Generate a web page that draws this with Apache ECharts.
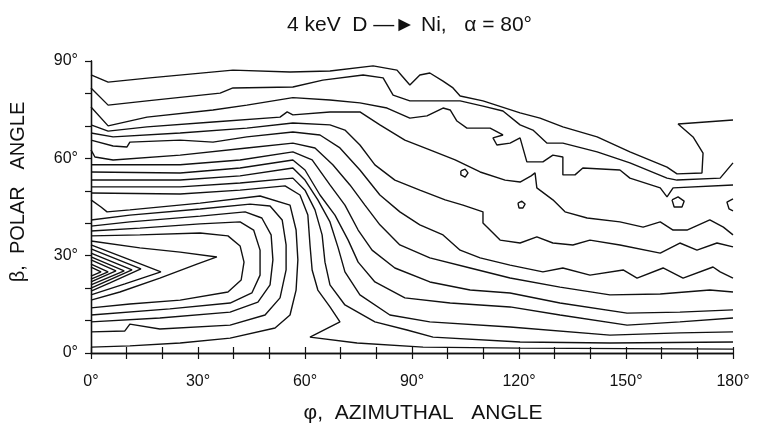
<!DOCTYPE html>
<html><head><meta charset="utf-8">
<script src="https://cdn.jsdelivr.net/npm/echarts@6/dist/echarts.min.js"></script>
<style>html,body{margin:0;padding:0;background:#fff}#c{width:758px;height:431px}</style>
</head><body><div id="c"></div>
<script>
// Axis ranges / ticks (degrees)
const phiTicks = [0, 30, 60, 90, 120, 150, 180];
const betaTicks = [0, 30, 60, 90];
const titleText = '4 keV  D —► Ni,   α = 80°';
const xName = 'φ,  AZIMUTHAL   ANGLE';
const yName = 'β,  POLAR   ANGLE';

// Contour lines, each a list of [phi (azimuthal deg), beta (polar deg)]
const C1 = [[0,85.7],[4.8,83.5],[16.5,84.8],[39.8,87.2],[55.8,86.6],[67,86.9],[79.1,88.5],[85.8,87.2],[87.2,85.4],[89.4,82.6],[92.2,85.7],[95,86.3],[98.7,83.8],[101.5,81.7],[103.5,79.2],[109.9,77.7],[120.3,74],[125.9,72.4],[132.3,69.7],[141.9,66.6],[151.1,62],[161.5,57.3],[164.3,55.2],[171.3,55.5],[171.6,61.6],[168.8,66.6],[164.6,70.6],[180,71.8]];
const C2 = [[0,81.7],[4.8,76.4],[15.7,77.7],[36.2,80.1],[39.8,81.7],[56.6,82],[65,84.1],[76.3,85.7],[81.9,84.8],[84.7,79.5],[89.4,77.7],[95,77.7],[103.5,77.7],[109.9,76.1],[115.5,74.6],[120.3,70.3],[123.9,68.7],[127.8,64.7],[132.3,64.7],[141.9,62],[151.1,58.6],[161.5,53.9],[164.3,53.3],[176.4,53.9],[180,58.6]];
const C3 = [[0,75.8],[4.8,70],[15.7,72.7],[34.2,74.9],[43.7,76.4],[56.6,78.7],[67,78],[75.4,77.1],[83,75.5],[89.4,72.4],[94.2,73.1],[98.7,75.5],[100.7,74.9],[102.6,71.5],[105.4,69.3],[111.9,69.3],[115.5,67.2],[112.7,66.3],[113.8,64.1],[117.5,64.7],[120.3,66.3],[122.2,58.9],[126.7,58.9],[129.5,61],[132.3,60.4],[132.3,54.9],[135.7,54.9],[137.9,57],[148.3,56.4],[151.1,53.9],[159.6,50.9],[161.5,48.1],[163.2,50.9],[180,51.8]];
const D1 = [[0,70.3],[4.8,68.4],[15.7,69.7],[34.2,71.2],[53,72.7],[55,74.3],[56.6,73.4],[67,74.3],[75.4,74.3],[81,70.3],[88,65.6],[95,62.6],[102.1,59.5],[109.1,55.8],[116.1,53.3],[120.3,52.7],[123.4,54.6],[124.5,55.5],[125,50.9],[129.5,47.2],[132.9,43.5],[139.1,41.6],[148.3,40.4],[154.8,38.8],[159.6,40.4],[163.2,37.9],[167.1,37.9],[173.5,41],[177.3,38.8],[180,36.4]];
const D2 = [[0,67.8],[6.2,66.6],[25,67.8],[43.7,69.3],[56.6,70.9],[67,70.3],[71.2,68.7],[75.4,64.1],[79.6,58],[85.2,53.3],[92.2,50.2],[99.3,47.2],[104.3,45.6],[109.9,43.5],[109.9,40.1],[114.7,34.8],[120.3,33.9],[125,35.8],[129.5,33.9],[135.1,33.3],[139.9,34.8],[148.3,33.3],[159.6,30.8],[165.1,33.9],[169.9,31.7],[175.5,33.9],[180,32.7]];
const D3 = [[0,65.6],[6.2,63.8],[10.1,63.5],[10.9,65],[25,65.6],[34.2,65],[43.7,66.6],[56.6,68.1],[64.2,67.2],[69.8,63.2],[75.4,56.4],[81,48.7],[86.6,43.5],[92.2,39.5],[98.7,36.4],[103.5,31.7],[109.1,29.3],[117.5,27.1],[126.7,25],[132.3,26.2],[139.9,24],[149.2,25.6],[153.1,23.1],[160.4,26.2],[166,23.1],[174.4,26.5],[176.4,25],[180,23.1]];
const D4 = [[0,62.6],[1.1,60.4],[6.2,59.5],[25,61],[43.7,63.2],[56.6,64.7],[62.8,63.2],[67.8,58],[72.6,51.8],[76.8,45.6],[81,39.5],[86.6,33.3],[95,29.3],[106.3,26.2],[117.5,23.1],[131.5,20.3],[145.5,17.9],[159.6,18.2],[173.5,19.4],[180,18.8]];
const D5 = [[0,58],[25,58],[41.8,59.5],[56.6,62],[62,59.5],[67,51.8],[71.2,45.6],[74.9,37.9],[78.8,31.7],[85.2,26.2],[95,21.9],[106.3,19.4],[117.5,18.5],[131.5,15.4],[150.3,12.3],[165.1,12.6],[180,13.3]];
const D6 = [[0,55.8],[25,55.5],[41.8,57],[56.6,59.5],[60,56.4],[64.2,48.7],[68.4,42.5],[72.1,34.8],[74.9,28],[79.6,21.9],[88,17],[100.7,15.4],[117.5,14.2],[131.5,11.7],[150.3,8.6],[165.1,9.6],[180,10.8]];
const D7 = [[0,53.3],[25,53.3],[41.8,54.6],[56.6,57],[60,53.3],[63.6,47.2],[67,40.4],[69.3,32.4],[71.2,25],[75.4,17.9],[83.8,11.7],[95,9.6],[117.5,8],[145.5,5.5],[165.1,6.2],[180,6.5]];
const D8 = [[0,51.2],[25,51.2],[41.8,52.4],[56.6,53.9],[60,50.2],[62.8,44.1],[64.8,36.4],[65.6,28],[67,21],[71.2,14.8],[79.6,9.6],[88.6,7.1],[95.9,4.9],[120.3,3.4],[145.5,3.1],[180,3.4]];
const R1 = [[0,49.3],[25,49],[41.8,50.2],[54.4,51.5],[58.6,48.7],[60.8,42.5],[61.4,33.3],[62,25.6],[63.6,19.4],[67,14.2],[69.8,9.6],[61.4,4.9],[74.6,3.1],[93.1,1.8],[120.3,1.5],[180,1.2]];
const U5 = [[0,47.2],[2.8,45],[4.5,43.5],[10.9,44.1],[30.6,46.2],[47.4,48.4],[55.8,45.6],[57.5,37.9],[58,28.7],[57.5,19.4],[55.8,11.7],[51.6,7.7],[39,4.6],[25,3.1],[10.9,2.2],[0,1.8]];
const U4 = [[0,41],[10.9,42.5],[30.6,44.4],[44.6,45.9],[50.2,45.3],[53.6,41],[54.7,33.3],[54.7,25.6],[53,17],[48.8,11.7],[39,8.6],[19.3,7.4],[10.9,8.9],[9.5,6.8],[0,6.5]];
const U3 = [[0,39.1],[10.9,40.4],[30.6,42.2],[43.2,43.5],[47.9,41.6],[50.5,36.4],[51,28.7],[50.2,21],[46.8,15.7],[39,12.6],[19.3,10.8],[0,9.6]];
const U2 = [[0,37.6],[13.7,38.5],[30.6,39.8],[41.8,40.4],[45.6,37.9],[47.4,31.7],[47.4,24],[45.1,18.5],[39,15.4],[22.1,13.6],[0,11.7]];
const P9 = [[0,36.1],[13.7,36.4],[30.6,37],[38.4,36.1],[41.8,33],[42.9,28],[42.1,22.5],[38.4,18.8],[25,16.3],[10.9,15.1],[0,13.9]];
const P8 = [[0,34.5],[13.7,32.4],[25,31.1],[35.3,29.6],[29.7,27.4],[19.3,23.1],[8.1,18.8],[0,16.3]];
const P7 = [[0,33.3],[9.5,29.3],[19.6,25],[9.5,21.3],[0,17.9]];
const P6 = [[0,32.1],[14,25.9],[5.3,21.6],[0,19.1]];
const P5 = [[0,30.8],[11.5,25.6],[0,20]];
const P4 = [[0,29.6],[9.3,25.3],[0,21]];
const P3 = [[0,28.7],[7,25.3],[0,21.9]];
const P2 = [[0,27.4],[4.8,25],[0,22.8]];
const P1 = [[0,26.5],[2.8,25],[0,23.7]];
const L1 = [[103.7,56.1],[104.9,56.7],[105.7,55.5],[104.9,54.2],[103.7,54.9],[103.7,56.1]];
const L2 = [[119.7,46.2],[120.8,46.8],[121.7,45.9],[121.1,44.7],[120,44.7],[119.7,46.2]];
const L3 = [[162.9,47.2],[164.6,48.1],[166.3,46.8],[165.7,45],[163.5,45],[162.9,47.2]];
const L4 = [[180,47.5],[178.3,46.5],[178.9,44.4],[180,43.8]];

const contours = [C1,C2,C3,D1,D2,D3,D4,D5,D6,D7,D8,R1,U5,U4,U3,U2,P9,P8,P7,P6,P5,P4,P3,P2,P1,L1,L2,L3,L4];

const FONT = 'Liberation Sans';
const INK = '#111';
const chart = echarts.init(document.getElementById('c'), null, {renderer:'canvas'});
const axisLine = {show:true, lineStyle:{color:INK, width:1.3}};
const inTick = {show:true, inside:true, length:6, lineStyle:{color:INK, width:1.2}};
chart.setOption({
  animation:false,
  backgroundColor:'#fff',
  title:{text:titleText, left:282, top:10,
    textStyle:{fontFamily:FONT, fontSize:21, fontWeight:'normal', color:INK}},
  grid:{left:91, right:25, top:61, bottom:78},
  graphic:[
    {type:'text', x:18, y:192, rotation:Math.PI/2,
     style:{text:yName, font:'20px "Liberation Sans"', fill:INK, align:'center', verticalAlign:'middle'}},
    {type:'text', x:423, y:413,
     style:{text:xName, font:'21px "Liberation Sans"', fill:INK, align:'center', verticalAlign:'middle'}}
  ],
  xAxis:[
    {type:'value', min:0, max:180, interval:10, position:'bottom',
     axisLine:axisLine, splitLine:{show:false}, axisTick:inTick,
     axisLabel:{formatter:v => phiTicks.indexOf(v)>=0 ? v+'°' : '', margin:21, fontFamily:FONT, fontSize:16, color:INK}},
    {type:'value', min:0, max:180, interval:10, position:'top',
     axisLine:axisLine, splitLine:{show:false}, axisTick:inTick, axisLabel:{show:false}}
  ],
  yAxis:[
    {type:'value', min:0, max:90, interval:10, position:'left',
     axisLine:axisLine, splitLine:{show:false}, axisTick:{show:false},
     axisLabel:{formatter:v => betaTicks.indexOf(v)>=0 ? v+'°' : '', margin:13, fontFamily:FONT, fontSize:16, color:INK}},
    {type:'value', min:0, max:90, interval:10, position:'right',
     axisLine:axisLine, splitLine:{show:false}, axisTick:inTick, axisLabel:{show:false}}
  ],
  series: contours.map(d => ({
    type:'line', data:d, xAxisIndex:0, yAxisIndex:0,
    showSymbol:false, symbol:'none', silent:true, clip:true,
    lineStyle:{color:INK, width:1.4}
  }))
});
</script></body></html>
